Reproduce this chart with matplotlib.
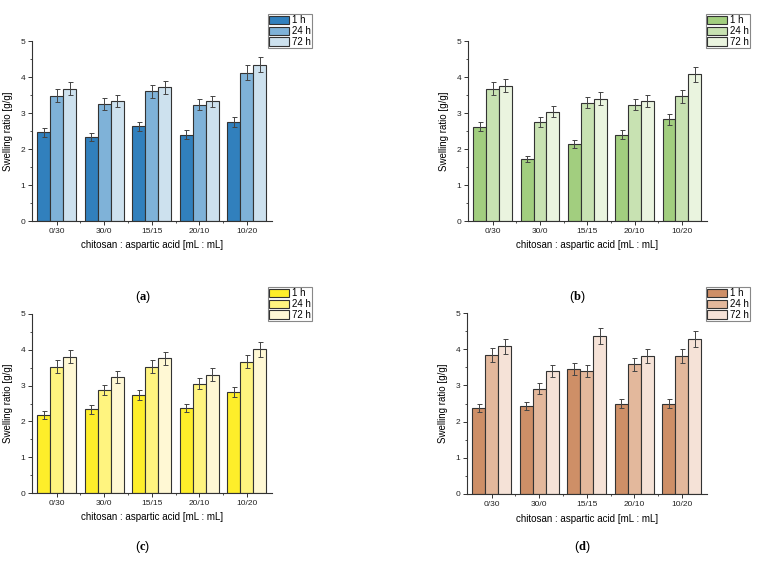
import numpy as np
import matplotlib
matplotlib.use("Agg")
import matplotlib.pyplot as plt

plt.rcParams["font.family"] = ["Liberation Sans", "DejaVu Sans"]
plt.rcParams["mathtext.fontset"] = "custom"
plt.rcParams["mathtext.rm"] = "Liberation Serif"
plt.rcParams["mathtext.bf"] = "Liberation Serif:bold"

categories = ["0/30", "30/0", "15/15", "20/10", "10/20"]
series_names = ["1 h", "24 h", "72 h"]

# panel (a)
a_vals = [[2.46, 2.33, 2.63, 2.40, 2.74],
          [3.48, 3.25, 3.60, 3.23, 4.12],
          [3.68, 3.34, 3.71, 3.32, 4.34]]
a_err = [[0.13, 0.12, 0.13, 0.12, 0.14],
         [0.18, 0.16, 0.18, 0.16, 0.20],
         [0.19, 0.17, 0.19, 0.16, 0.21]]
# panel (b)
b_vals = [[2.62, 1.72, 2.14, 2.40, 2.82],
          [3.67, 2.76, 3.29, 3.23, 3.46],
          [3.76, 3.04, 3.40, 3.33, 4.07]]
b_err = [[0.13, 0.09, 0.11, 0.12, 0.14],
         [0.18, 0.14, 0.16, 0.16, 0.17],
         [0.19, 0.15, 0.17, 0.17, 0.20]]
# panel (c)
c_vals = [[2.17, 2.34, 2.74, 2.37, 2.83],
          [3.53, 2.89, 3.53, 3.05, 3.67],
          [3.81, 3.24, 3.76, 3.31, 4.01]]
c_err = [[0.11, 0.12, 0.14, 0.12, 0.14],
         [0.18, 0.14, 0.18, 0.15, 0.18],
         [0.19, 0.16, 0.19, 0.17, 0.20]]
# panel (d)
d_vals = [[2.38, 2.43, 3.45, 2.50, 2.50],
          [3.84, 2.91, 3.39, 3.59, 3.81],
          [4.08, 3.39, 4.37, 3.81, 4.28]]
d_err = [[0.12, 0.12, 0.17, 0.13, 0.12],
         [0.19, 0.15, 0.17, 0.18, 0.19],
         [0.20, 0.17, 0.22, 0.19, 0.21]]

a_colors = ["#3180BD", "#7FB2D8", "#CDE1EE"]
b_colors = ["#A2CE7F", "#C8E2B2", "#EAF4DF"]
c_colors = ["#FEEE2A", "#FFF47F", "#FFF8D4"]
d_colors = ["#CE8F67", "#E3B89C", "#F5E2D7"]

W, H = 765, 562
fig = plt.figure(figsize=(W / 100, H / 100), dpi=100)


def px_axes(x0, y0, x1, y1):
    # pixel box -> figure fraction
    return fig.add_axes([x0 / W, 1 - y1 / H, (x1 - x0) / W, (y1 - y0) / H])


def draw_panel(box, vals, errs, colors, legend_xy, tag, tag_xy):
    ax = px_axes(*box)
    x = np.arange(len(categories))
    bw = 0.272
    for i, (v, e, c) in enumerate(zip(vals, errs, colors)):
        pos = x + (i - 1) * bw
        # soft grey shadow like the original software draws
        ax.bar(pos + 0.025, v, bw, color="#9a9a9a", edgecolor="none",
               zorder=1, alpha=0.7)
        ax.bar(pos, v, bw, color=c, edgecolor="#333333", linewidth=0.8,
               label=series_names[i], zorder=2)
        ax.errorbar(pos, v, yerr=e, fmt="none", ecolor="#444444",
                    elinewidth=0.7, capsize=1.8, capthick=0.7, zorder=3)
    ax.set_xlim(-0.52, 4.53)
    ax.set_ylim(0, 5)
    ax.set_yticks(range(6))
    ax.set_yticks(np.arange(0.5, 5, 1), minor=True)
    ax.set_xticks(x)
    ax.set_xticks(x[:-1] + 0.5, minor=True)
    ax.set_xticklabels(categories)
    for s in ["top", "right"]:
        ax.spines[s].set_visible(False)
    for s in ["left", "bottom"]:
        ax.spines[s].set_linewidth(0.8)
        ax.spines[s].set_color("#333333")
    ax.tick_params(which="major", length=3, width=0.7, labelsize=6, pad=2,
                   colors="#333333", labelcolor="#222222")
    ax.tick_params(which="minor", length=1.5, width=0.6, colors="#333333")
    ax.set_ylabel("Swelling ratio [g/g]", fontsize=7, labelpad=5)
    ax.set_xlabel("chitosan : aspartic acid [mL : mL]", fontsize=7,
                  labelpad=4)
    leg = ax.legend(loc="upper left",
                    bbox_to_anchor=(legend_xy[0] / W, 1 - legend_xy[1] / H),
                    bbox_transform=fig.transFigure, fontsize=7,
                    fancybox=False, framealpha=1, edgecolor="#888888",
                    handlelength=2.0, handleheight=1.0, handletextpad=0.3,
                    labelspacing=0.08, borderpad=0.15, borderaxespad=0)
    leg.get_frame().set_linewidth(0.8)
    fig.text(tag_xy[0] / W, 1 - tag_xy[1] / H,
             r"($\mathbf{" + tag + r"}$)", fontsize=9,
             ha="center", va="center")
    return ax


draw_panel((32, 41, 272, 221), a_vals, a_err, a_colors, (268, 14), "a",
           (143, 297))
draw_panel((468, 41, 707, 221), b_vals, b_err, b_colors, (706, 14), "b",
           (577, 297))
draw_panel((32, 314, 272, 493), c_vals, c_err, c_colors, (268, 287), "c",
           (143, 547))
draw_panel((467, 313, 707, 494), d_vals, d_err, d_colors, (706, 287), "d",
           (582, 547))

fig.savefig("out.png", dpi=100)
